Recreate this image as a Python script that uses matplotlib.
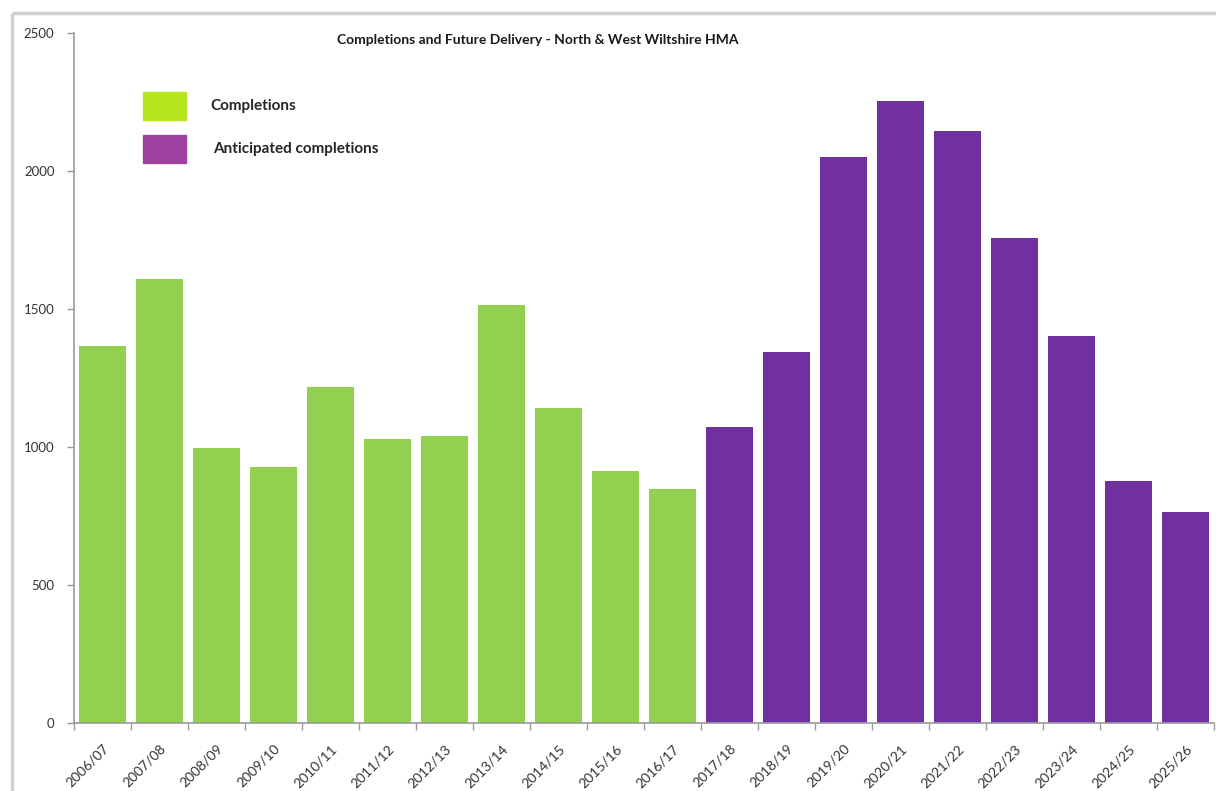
import matplotlib
matplotlib.use('Agg')
import matplotlib.pyplot as plt
from matplotlib.lines import Line2D
from matplotlib.patches import Rectangle
import numpy as np

plt.rcParams['font.family'] = ['Lato', 'DejaVu Sans']

years = ['2006/07', '2007/08', '2008/09', '2009/10', '2010/11', '2011/12', '2012/13',
         '2013/14', '2014/15', '2015/16', '2016/17', '2017/18', '2018/19', '2019/20',
         '2020/21', '2021/22', '2022/23', '2023/24', '2024/25', '2025/26']
completions = [1365, 1609, 998, 927, 1218, 1029, 1040, 1514, 1140, 914, 847]
anticipated = [1073, 1345, 2050, 2255, 2146, 1756, 1403, 877, 766]

green = '#92d050'
purple = '#7030a0'

fig = plt.figure(figsize=(12.16, 7.91), dpi=100)
ax = fig.add_axes([74 / 1216, 1 - 723 / 791, 1140 / 1216, 690 / 791])
ax.patch.set_visible(False)

x = np.arange(len(years))
n1 = len(completions)
ax.bar(x[:n1], completions, width=0.82, color=green)
ax.bar(x[n1:], anticipated, width=0.82, color=purple)

ax.set_xlim(-0.5, len(years) - 0.5)
ax.set_ylim(0, 2500)
ax.set_yticks([0, 500, 1000, 1500, 2000, 2500])
ax.tick_params(axis='y', labelsize=9.5, colors='#9a9a9a', labelcolor='#333333', length=5, width=1, pad=9)
ax.set_xticks(x)
ax.set_xticklabels(years, rotation=45, ha='right', rotation_mode='anchor', fontsize=10, color='#333333')
ax.tick_params(axis='x', which='major', length=0, pad=14)
# tick marks sit between the categories, Excel style
ax.set_xticks(np.arange(-0.5, len(years) - 0.4, 1), minor=True)
ax.tick_params(axis='x', which='minor', length=5, width=1, color='#9a9a9a')

ax.spines['top'].set_visible(False)
ax.spines['right'].set_visible(False)
for s in ['left', 'bottom']:
    ax.spines[s].set_color('#9a9a9a')
    ax.spines[s].set_linewidth(1.2)

# chart area border (only top and left are visible in the crop)
fig.add_artist(Line2D([12 / 1216, 1.01], [1 - 13 / 791, 1 - 13 / 791],
                      color='#d0d0d0', linewidth=2.5, solid_capstyle='butt'))
fig.add_artist(Line2D([12 / 1216, 12 / 1216], [-0.01, 1 - 13 / 791],
                      color='#d0d0d0', linewidth=2.5, solid_capstyle='butt'))

fig.text(538 / 1216, 1 - 40 / 791, 'Completions and Future Delivery - North & West Wiltshire HMA',
         ha='center', va='center', fontsize=10, fontweight='bold', color='#1a1a1a')

# legend
fig.add_artist(Rectangle((143 / 1216, 1 - 120 / 791), 43 / 1216, 28 / 791, color='#b5e61d'))
fig.add_artist(Rectangle((143 / 1216, 1 - 163 / 791), 43 / 1216, 28 / 791, color='#a040a0'))
fig.text(210 / 1216, 1 - 106 / 791, 'Completions', ha='left', va='center',
         fontsize=11, fontweight='bold', color='#262626')
fig.text(213 / 1216, 1 - 149 / 791, 'Anticipated completions', ha='left', va='center',
         fontsize=11, fontweight='bold', color='#262626')

fig.savefig('out.png', dpi=100)
